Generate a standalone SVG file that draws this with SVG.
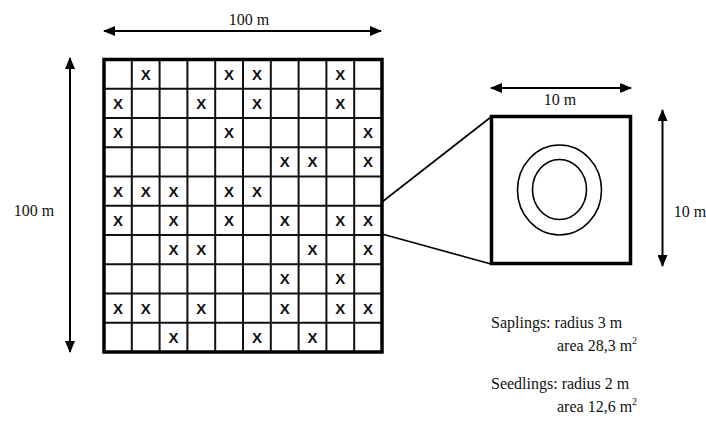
<svg xmlns="http://www.w3.org/2000/svg" width="706" height="421" viewBox="0 0 706 421">
  <defs>
    <marker id="head" viewBox="0 0 12 10" refX="11" refY="5" markerWidth="12" markerHeight="10" markerUnits="userSpaceOnUse" orient="auto-start-reverse">
      <path d="M0,0 L12,5 L0,10 Z" fill="#000"/>
    </marker>
  </defs>
  <style>
    .lbl { font-family: "Liberation Serif", "Times New Roman", serif; font-size: 16px; fill: #111; }
    .sup { font-size: 10px; }
    .x { font-family: "Liberation Sans", Arial, sans-serif; font-weight: bold; font-size: 15px; fill: #111; text-anchor: middle; }
    .dim { stroke: #000; stroke-width: 2; fill: none; marker-start: url(#head); marker-end: url(#head); }
    .inner { stroke: #111; stroke-width: 2; fill: none; }
    .outer { stroke: #000; stroke-width: 3.5; fill: none; }
    .ring { stroke: #000; stroke-width: 1.6; fill: none; }
    .link { stroke: #000; stroke-width: 1.6; fill: none; }
  </style>
  <rect width="706" height="421" fill="#fff"/>

  <!-- 100 m x 100 m plot divided into 10 x 10 subplots -->
  <g id="grid">
    <path class="inner" d="M131.8,59.5V352 M159.6,59.5V352 M187.4,59.5V352 M215.2,59.5V352 M243,59.5V352 M270.8,59.5V352 M298.6,59.5V352 M326.4,59.5V352 M354.2,59.5V352
      M104,88.75H382 M104,118H382 M104,147.25H382 M104,176.5H382 M104,205.75H382 M104,235H382 M104,264.25H382 M104,293.5H382 M104,322.75H382"/>
    <rect class="outer" x="104" y="59.5" width="278" height="292.5"/>
    <g id="marks">
      <!-- row 1 -->
      <text class="x" x="145.7" y="79.5">X</text>
      <text class="x" x="229.1" y="79.5">X</text>
      <text class="x" x="256.9" y="79.5">X</text>
      <text class="x" x="340.3" y="79.5">X</text>
      <!-- row 2 -->
      <text class="x" x="117.9" y="108.8">X</text>
      <text class="x" x="201.3" y="108.8">X</text>
      <text class="x" x="256.9" y="108.8">X</text>
      <text class="x" x="340.3" y="108.8">X</text>
      <!-- row 3 -->
      <text class="x" x="117.9" y="138">X</text>
      <text class="x" x="229.1" y="138">X</text>
      <text class="x" x="368.1" y="138">X</text>
      <!-- row 4 -->
      <text class="x" x="284.7" y="167.3">X</text>
      <text class="x" x="312.5" y="167.3">X</text>
      <text class="x" x="368.1" y="167.3">X</text>
      <!-- row 5 -->
      <text class="x" x="117.9" y="196.5">X</text>
      <text class="x" x="145.7" y="196.5">X</text>
      <text class="x" x="173.5" y="196.5">X</text>
      <text class="x" x="229.1" y="196.5">X</text>
      <text class="x" x="256.9" y="196.5">X</text>
      <!-- row 6 -->
      <text class="x" x="117.9" y="225.8">X</text>
      <text class="x" x="173.5" y="225.8">X</text>
      <text class="x" x="229.1" y="225.8">X</text>
      <text class="x" x="284.7" y="225.8">X</text>
      <text class="x" x="340.3" y="225.8">X</text>
      <text class="x" x="368.1" y="225.8">X</text>
      <!-- row 7 -->
      <text class="x" x="173.5" y="255">X</text>
      <text class="x" x="201.3" y="255">X</text>
      <text class="x" x="312.5" y="255">X</text>
      <text class="x" x="368.1" y="255">X</text>
      <!-- row 8 -->
      <text class="x" x="284.7" y="284.3">X</text>
      <text class="x" x="340.3" y="284.3">X</text>
      <!-- row 9 -->
      <text class="x" x="117.9" y="313.5">X</text>
      <text class="x" x="145.7" y="313.5">X</text>
      <text class="x" x="201.3" y="313.5">X</text>
      <text class="x" x="284.7" y="313.5">X</text>
      <text class="x" x="340.3" y="313.5">X</text>
      <text class="x" x="368.1" y="313.5">X</text>
      <!-- row 10 -->
      <text class="x" x="173.5" y="342.8">X</text>
      <text class="x" x="256.9" y="342.8">X</text>
      <text class="x" x="312.5" y="342.8">X</text>
    </g>
  </g>

  <!-- enlarged 10 m x 10 m subplot with the two sampling circles -->
  <g id="subplot">
    <rect class="outer" x="491.5" y="116.5" width="139" height="147" stroke-width="3"/>
    <ellipse class="ring" cx="559.5" cy="190" rx="42" ry="45"/>
    <ellipse class="ring" cx="559.5" cy="189.5" rx="27" ry="30"/>
  </g>

  <!-- dimension arrows and zoom lines -->
  <g id="connectors">
    <line class="dim" x1="104" y1="31" x2="381" y2="31"/>
    <line class="dim" x1="70" y1="58" x2="70" y2="352"/>
    <line class="dim" x1="491" y1="88" x2="631" y2="88"/>
    <line class="dim" x1="662.5" y1="110" x2="662.5" y2="266"/>
    <line class="link" x1="382" y1="202" x2="491" y2="117"/>
    <line class="link" x1="382" y1="234" x2="491" y2="264"/>
  </g>

  <g id="labels">
    <text class="lbl" x="249" y="25" text-anchor="middle">100 m</text>
    <text class="lbl" x="34" y="216" text-anchor="middle">100 m</text>
    <text class="lbl" x="560" y="105" text-anchor="middle">10 m</text>
    <text class="lbl" x="690" y="217" text-anchor="middle">10 m</text>
    <text class="lbl" x="491" y="328">Saplings: radius 3 m</text>
    <text class="lbl" x="557" y="351">area 28,3 m<tspan class="sup" dy="-7">2</tspan></text>
    <text class="lbl" x="491" y="389">Seedlings: radius 2 m</text>
    <text class="lbl" x="557" y="412">area 12,6 m<tspan class="sup" dy="-7">2</tspan></text>
  </g>
</svg>
